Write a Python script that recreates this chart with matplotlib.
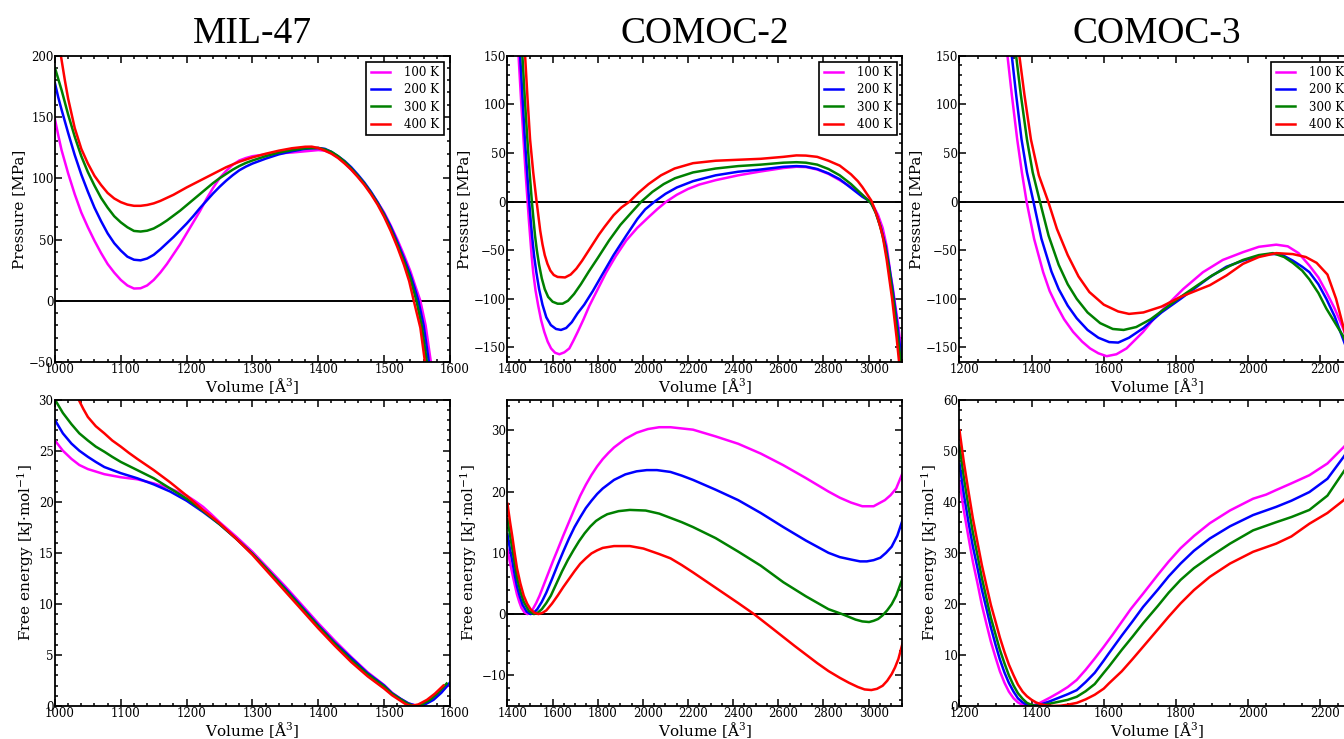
import matplotlib
matplotlib.use('Agg')
import matplotlib.pyplot as plt
import matplotlib.transforms as mtransforms
from matplotlib.ticker import AutoMinorLocator, MultipleLocator

plt.rcParams['font.family'] = ['DejaVu Serif']
plt.rcParams['mathtext.fontset'] = 'dejavuserif'

temps = ['100 K', '200 K', '300 K', '400 K']
colors = ['#ff00ff', '#0000ff', '#008000', '#ff0000']
titles = ['MIL-47', 'COMOC-2', 'COMOC-3']

# ---- MIL-47 pressure [MPa]
mil_p100_v = [1000, 1005, 1010, 1020, 1030, 1040, 1050, 1060, 1070, 1080, 1090, 1100, 1110, 1120, 1130,
              1140, 1150, 1160, 1170, 1180, 1190, 1200, 1210, 1220, 1230, 1240, 1250, 1260, 1270, 1280,
              1290, 1300, 1320, 1340, 1360, 1380, 1400, 1410, 1420, 1430, 1440, 1450, 1460, 1470, 1480,
              1490, 1500, 1510, 1520, 1530, 1540, 1548, 1555, 1563, 1571, 1578]
mil_p100 = [148, 135, 123, 104, 87, 72, 60, 49, 39, 30, 23, 17, 12.5, 10, 10.2,
            12.5, 17, 23, 30, 38, 46, 55, 64, 73, 83, 92, 100, 106, 111, 114.5,
            116.5, 118, 119.5, 120.3, 121, 122, 123, 122.5, 120.5, 117, 112.5, 107, 101.5, 95.5, 88.5,
            80.5, 72, 61.5, 50, 37.5, 24, 11, 0, -20, -50, -78]
mil_p200_v = [1000, 1005, 1010, 1020, 1030, 1040, 1050, 1060, 1070, 1080, 1090, 1100, 1110, 1120, 1130,
              1140, 1150, 1160, 1170, 1180, 1190, 1200, 1210, 1220, 1230, 1240, 1250, 1260, 1270, 1280,
              1290, 1300, 1320, 1340, 1360, 1380, 1400, 1410, 1420, 1430, 1440, 1450, 1460, 1470, 1480,
              1490, 1500, 1510, 1520, 1530, 1540, 1546, 1552, 1560, 1568, 1575]
mil_p200 = [177.5, 166, 156, 137, 119, 103, 89, 76, 65, 55, 47, 41, 36, 33.5, 33,
            34.5, 37.5, 42, 47, 52, 57.5, 63, 69, 75.5, 81.5, 87.5, 93, 98, 102.5, 106.5,
            109.5, 112, 116, 119.5, 122, 124, 124.7, 124, 121.5, 118, 114, 109, 103, 96.5, 89,
            80.5, 71, 60.5, 48, 35, 21, 11, 0, -20, -50, -78]
mil_p300_v = [1000, 1005, 1010, 1020, 1030, 1040, 1050, 1060, 1070, 1080, 1090, 1100, 1110, 1120, 1130,
              1140, 1150, 1160, 1170, 1180, 1190, 1200, 1210, 1220, 1230, 1240, 1250, 1260, 1270, 1280,
              1290, 1300, 1320, 1340, 1360, 1380, 1400, 1410, 1420, 1430, 1440, 1450, 1460, 1470, 1480,
              1490, 1500, 1510, 1520, 1530, 1540, 1549, 1557, 1565, 1572]
mil_p300 = [190, 181, 172, 152, 134, 118, 105, 94, 84, 76, 69, 64, 60, 57, 56.5,
            57.2, 59, 62, 65.5, 69.5, 73.5, 78, 82.5, 87, 91.5, 96, 100, 103.5, 107, 110,
            112.5, 114.5, 118, 121, 123, 124.5, 124.7, 123.5, 121.5, 118, 113.5, 108, 102, 95.5, 88,
            79.5, 70, 58.5, 46, 32.5, 18, 0, -20, -50, -78]
mil_p400_v = [1009, 1015, 1020, 1030, 1040, 1050, 1060, 1070, 1080, 1090, 1100, 1110, 1120, 1130, 1140,
              1150, 1160, 1170, 1180, 1190, 1200, 1220, 1240, 1260, 1280, 1300, 1320, 1340, 1360, 1380,
              1390, 1400, 1410, 1420, 1430, 1440, 1450, 1460, 1470, 1480, 1490, 1500, 1510, 1520, 1530,
              1538, 1545, 1555, 1562, 1570]
mil_p400 = [200, 180, 165, 141, 124, 112, 102, 94.5, 88, 83.5, 80.5, 78.5, 77.5, 77.5, 78.2,
            79.5, 81.5, 84, 86.5, 89.5, 92.5, 98, 103.5, 109, 113.5, 117, 120, 122.5, 124.5, 125.7,
            125.8, 124.7, 122.5, 120, 116.5, 112, 107, 101, 94.5, 87, 78.5, 68.5, 57, 44, 29.5,
            16, 0, -22, -50, -80]

# ---- MIL-47 free energy [kJ/mol]
mil_f100_v = [1000, 1012, 1025, 1037, 1050, 1075, 1100, 1125, 1150, 1175, 1200, 1212, 1225, 1237, 1250,
              1275, 1300, 1325, 1350, 1375, 1400, 1425, 1450, 1475, 1500, 1512, 1525, 1537, 1550, 1562,
              1575, 1587, 1600]
mil_f100 = [26, 25, 24.2, 23.6, 23.2, 22.7, 22.4, 22.2, 21.8, 21.3, 20.6, 20.1, 19.5, 18.8, 18,
            16.6, 15.1, 13.4, 11.7, 9.9, 8.1, 6.4, 4.8, 3.3, 2.05, 1.3, 0.7, 0.25, 0, 0.25,
            0.75, 1.4, 2.2]
mil_f200_v = [1000, 1012, 1025, 1037, 1050, 1062, 1075, 1100, 1125, 1150, 1175, 1200, 1225, 1250, 1275,
              1300, 1325, 1350, 1375, 1400, 1425, 1450, 1475, 1500, 1512, 1525, 1537, 1550, 1562, 1575,
              1587, 1600]
mil_f200 = [28, 26.7, 25.7, 25, 24.4, 23.9, 23.4, 22.8, 22.3, 21.7, 21, 20.1, 19, 17.8, 16.4,
            14.9, 13.2, 11.5, 9.7, 7.9, 6.2, 4.7, 3.2, 2, 1.25, 0.7, 0.25, 0, 0.15, 0.6,
            1.3, 2.3]
mil_f300_v = [1000, 1012, 1025, 1037, 1050, 1062, 1075, 1087, 1100, 1125, 1150, 1175, 1200, 1225, 1250,
              1275, 1300, 1325, 1350, 1375, 1400, 1425, 1450, 1475, 1500, 1512, 1525, 1535, 1545, 1557,
              1570, 1582, 1595]
mil_f300 = [30, 28.7, 27.6, 26.7, 26, 25.4, 24.9, 24.4, 23.9, 23.1, 22.3, 21.3, 20.3, 19.1, 17.8,
            16.4, 14.9, 13.2, 11.4, 9.6, 7.8, 6.1, 4.5, 3.1, 1.9, 1.2, 0.65, 0.25, 0, 0.15,
            0.6, 1.3, 2.2]
mil_f400_v = [1036, 1043, 1050, 1062, 1075, 1087, 1100, 1112, 1125, 1150, 1175, 1200, 1225, 1250, 1275,
              1300, 1325, 1350, 1375, 1400, 1425, 1450, 1475, 1500, 1512, 1525, 1532, 1540, 1552, 1565,
              1577, 1590]
mil_f400 = [30, 29.1, 28.3, 27.4, 26.7, 26, 25.4, 24.8, 24.2, 23.1, 21.9, 20.6, 19.2, 17.9, 16.4,
            14.8, 13, 11.2, 9.4, 7.6, 5.9, 4.3, 2.9, 1.7, 1.05, 0.5, 0.2, 0, 0.15, 0.6,
            1.2, 2.0]

# ---- COMOC-2 pressure [MPa]
c2_p100_v = [1449, 1460, 1471, 1480, 1489, 1495, 1501, 1507, 1514, 1524, 1536, 1549, 1563, 1578, 1593,
             1611, 1630, 1652, 1674, 1692, 1711, 1737, 1763, 1800, 1837, 1880, 1926, 1975, 2025, 2065,
             2104, 2150, 2200, 2250, 2322, 2422, 2522, 2622, 2680, 2722, 2772, 2822, 2872, 2922, 2972,
             3000, 3022, 3042, 3062, 3080, 3096, 3108, 3118, 3130, 3138, 3150]
c2_p100 = [150, 105, 64, 30, 0, -20, -38, -56, -73, -91, -107, -122, -134, -144, -151,
           -155.5, -157, -155, -151, -143, -134, -121, -107, -90, -73, -56, -40, -27, -16, -7.5,
           0, 7, 13, 17.5, 22, 27, 31, 34.5, 35.8, 35.5, 33, 28.5, 22, 15, 7,
           1.5, -5, -14, -27, -46, -73, -90, -107, -125, -141, -165]
c2_p200_v = [1456, 1467, 1477, 1487, 1496, 1503, 1510, 1518, 1528, 1540, 1555, 1572, 1592, 1615, 1637,
             1660, 1685, 1710, 1740, 1778, 1820, 1870, 1926, 1975, 2010, 2052, 2100, 2150, 2222, 2322,
             2422, 2522, 2622, 2680, 2722, 2772, 2822, 2872, 2922, 2972, 3007, 3030, 3052, 3075, 3092,
             3105, 3115, 3126, 3135, 3150]
c2_p200 = [150, 105, 64, 30, 0, -20, -38, -56, -73, -90, -106, -119, -127, -131, -132,
           -130, -124, -115, -106, -92, -75, -55, -35, -18, -8, 0, 8, 14.5, 21, 27,
           30.7, 33, 35.8, 36.5, 36, 33.5, 29, 23, 14, 5, 0, -10, -25, -45, -68,
           -88, -105, -125, -142, -170]
c2_p300_v = [1466, 1477, 1488, 1498, 1508, 1515, 1522, 1530, 1540, 1552, 1565, 1580, 1600, 1622, 1644,
             1668, 1695, 1725, 1760, 1800, 1850, 1900, 1950, 1993, 2042, 2092, 2142, 2222, 2322, 2422,
             2522, 2622, 2680, 2722, 2772, 2822, 2872, 2922, 2972, 3012, 3032, 3052, 3072, 3090, 3112,
             3132, 3148]
c2_p300 = [150, 105, 64, 30, 0, -18, -35, -50, -65, -79, -90, -98, -103, -105, -105,
           -102, -95, -85, -72, -58, -40, -24, -11, 0, 10, 18, 24, 30, 34, 36.5,
           38, 40, 40.5, 40, 38, 33.5, 27, 18, 7, -2, -12, -26, -45, -68, -105,
           -145, -175]
c2_p400_v = [1478, 1489, 1500, 1514, 1529, 1537, 1545, 1555, 1565, 1577, 1590, 1605, 1622, 1655, 1680,
             1705, 1730, 1755, 1780, 1805, 1830, 1870, 1905, 1941, 1980, 2025, 2080, 2140, 2222, 2322,
             2422, 2522, 2622, 2680, 2722, 2772, 2822, 2872, 2922, 2952, 2972, 2992, 3012, 3027, 3042,
             3062, 3080, 3104, 3124, 3137]
c2_p400 = [150, 105, 64, 30, 0, -15, -30, -44, -55, -64, -71, -75.5, -77.5, -78, -75,
           -69, -61, -52, -43, -34, -26, -14, -6, 0, 9, 18, 27, 34, 39.5, 42,
           43, 44, 46, 47.5, 47.3, 46, 42, 37, 28, 21, 15, 8, 1, -8, -18,
           -35, -60, -100, -140, -170]

# ---- COMOC-2 free energy [kJ/mol]
c2_f100_v = [1400, 1411, 1422, 1432, 1442, 1452, 1462, 1475, 1488, 1500, 1512, 1527, 1542, 1562, 1582,
             1602, 1622, 1647, 1672, 1697, 1722, 1747, 1772, 1797, 1822, 1847, 1872, 1922, 1972, 2022,
             2072, 2122, 2172, 2222, 2322, 2422, 2522, 2622, 2722, 2822, 2872, 2922, 2972, 3022, 3072,
             3097, 3122, 3150]
c2_f100 = [10.5, 8.4, 6.5, 4.8, 3.2, 2, 1, 0.3, 0, 0.25, 0.8, 1.8, 3, 4.9, 6.8,
           8.7, 10.5, 12.8, 15, 17.2, 19.3, 21.1, 22.7, 24.1, 25.3, 26.3, 27.2, 28.6, 29.6, 30.2,
           30.5, 30.5, 30.3, 30.1, 29, 27.8, 26.2, 24.3, 22.2, 20, 19, 18.2, 17.6, 17.6, 18.6,
           19.4, 20.5, 23]
c2_f200_v = [1400, 1411, 1422, 1432, 1442, 1455, 1467, 1485, 1502, 1517, 1532, 1552, 1572, 1597, 1622,
             1647, 1672, 1697, 1722, 1747, 1772, 1797, 1822, 1872, 1922, 1972, 2017, 2062, 2122, 2172,
             2222, 2322, 2422, 2522, 2622, 2722, 2822, 2872, 2922, 2962, 2992, 3022, 3052, 3077, 3102,
             3127, 3150]
c2_f200 = [13, 10.6, 8.5, 6.4, 4.5, 2.8, 1.5, 0.4, 0, 0.25, 0.8, 2, 3.5, 5.7, 8,
           10.2, 12.3, 14.2, 15.8, 17.3, 18.5, 19.6, 20.5, 21.9, 22.8, 23.3, 23.5, 23.5, 23.2, 22.6,
           21.9, 20.3, 18.6, 16.5, 14.2, 12, 10, 9.3, 8.9, 8.6, 8.6, 8.8, 9.2, 10, 11,
           12.8, 15.3]
c2_f300_v = [1400, 1411, 1422, 1432, 1442, 1457, 1472, 1495, 1517, 1535, 1552, 1572, 1592, 1617, 1642,
             1667, 1692, 1717, 1742, 1767, 1792, 1817, 1842, 1892, 1942, 2012, 2072, 2122, 2172, 2222,
             2322, 2422, 2522, 2622, 2722, 2822, 2882, 2942, 2972, 3002, 3022, 3042, 3062, 3082, 3102,
             3122, 3150]
c2_f300 = [15.5, 12.9, 10.5, 8.2, 6, 3.7, 2, 0.5, 0, 0.25, 0.8, 1.8, 3, 5, 7,
           8.8, 10.4, 11.9, 13.2, 14.3, 15.2, 15.8, 16.3, 16.8, 17, 16.9, 16.4, 15.7, 15, 14.2,
           12.4, 10.2, 7.9, 5.2, 2.9, 0.8, 0, -0.9, -1.2, -1.3, -1.1, -0.8, -0.2, 0.6, 1.6,
           3, 5.8]
c2_f400_v = [1400, 1411, 1422, 1432, 1442, 1457, 1472, 1487, 1502, 1520, 1537, 1555, 1572, 1597, 1622,
             1647, 1672, 1697, 1722, 1747, 1772, 1797, 1822, 1872, 1942, 2002, 2072, 2122, 2172, 2222,
             2322, 2422, 2492, 2572, 2672, 2772, 2822, 2872, 2912, 2952, 2982, 3012, 3037, 3062, 3082,
             3102, 3117, 3132, 3150]
c2_f400 = [18, 15.1, 12.5, 9.9, 7.5, 5, 3, 1.7, 0.8, 0.2, 0, 0.2, 0.6, 1.7, 3,
           4.4, 5.7, 7, 8.2, 9.1, 9.9, 10.4, 10.8, 11.1, 11.1, 10.7, 9.8, 9.1, 8, 6.8,
           4.3, 1.8, 0, -2.3, -5.2, -8, -9.3, -10.4, -11.2, -11.9, -12.3, -12.4, -12.2, -11.7, -10.9,
           -9.8, -8.7, -7.3, -4.8]

# ---- COMOC-3 pressure [MPa]
c3_p100_v = [1333, 1345, 1360, 1373, 1386, 1407, 1432, 1450, 1469, 1490, 1515, 1540, 1562, 1585, 1608,
             1635, 1663, 1709, 1740, 1774, 1820, 1875, 1930, 1986, 2030, 2078, 2110, 2140, 2170, 2195,
             2217, 2240, 2263, 2280, 2295]
c3_p100 = [150, 110, 64, 30, 0, -38.5, -72.6, -92, -106.7, -121, -134, -144, -151, -156, -159,
           -157, -151, -134, -120, -107, -90, -72.6, -60, -52, -46.5, -44.3, -46, -53, -65.8, -78,
           -93, -110, -130, -148, -165]
c3_p200_v = [1345, 1357, 1372, 1387, 1405, 1427, 1455, 1475, 1500, 1525, 1555, 1585, 1615, 1640, 1670,
             1710, 1760, 1813, 1860, 1894, 1940, 1986, 2030, 2060, 2090, 2124, 2150, 2170, 2195, 2217,
             2240, 2263, 2280, 2295]
c3_p200 = [150, 110, 64, 30, 0, -38, -72, -90, -107, -120, -132, -140, -144.5, -145, -140,
           -130, -114, -100, -87, -77.7, -67, -60.7, -56, -54, -54, -60.7, -67, -72.6, -85, -100,
           -118, -141, -158, -175]
c3_p300_v = [1357, 1370, 1387, 1403, 1423, 1447, 1475, 1500, 1525, 1555, 1590, 1625, 1655, 1690, 1730,
             1770, 1813, 1860, 1900, 1950, 1986, 2030, 2069, 2100, 2124, 2150, 2170, 2195, 2217, 2240,
             2263, 2280, 2295]
c3_p300 = [150, 110, 64, 30, 0, -35, -65, -85, -100, -114, -125, -131, -132, -129, -121,
           -110, -98, -86, -76, -66, -60, -55, -53, -57, -63, -71, -80, -94, -110, -124,
           -138, -152, -170]
c3_p400_v = [1366, 1380, 1398, 1420, 1446, 1470, 1500, 1530, 1560, 1600, 1640, 1670, 1710, 1760, 1813,
             1860, 1894, 1940, 1986, 2030, 2078, 2124, 2160, 2190, 2220, 2244, 2265, 2280, 2295]
c3_p400 = [150, 110, 64, 27, 0, -28, -55, -77, -93, -106, -113, -115.5, -114, -108, -98,
           -91, -86, -76, -64, -57, -53, -54, -57, -63, -75, -100, -130, -150, -170]

# ---- COMOC-3 free energy [kJ/mol]
c3_f100_v = [1200, 1212, 1225, 1237, 1250, 1262, 1275, 1287, 1300, 1312, 1325, 1337, 1350, 1362, 1375,
             1395, 1420, 1450, 1475, 1500, 1525, 1550, 1575, 1600, 1625, 1650, 1675, 1709, 1750, 1780,
             1813, 1850, 1894, 1950, 2014, 2050, 2078, 2120, 2170, 2220, 2265, 2295]
c3_f100 = [44, 38.3, 33, 28.3, 24, 19.8, 16, 12.6, 9.5, 6.8, 4.5, 2.8, 1.5, 0.7, 0.2,
           0, 0.5, 1.6, 2.6, 3.7, 5.1, 7.1, 9.3, 11.6, 14, 16.5, 19, 22, 25.7, 28.3,
           30.9, 33.3, 35.8, 38.3, 40.6, 41.4, 42.3, 43.6, 45.2, 47.5, 50.7, 53]
c3_f200_v = [1200, 1212, 1225, 1237, 1250, 1262, 1275, 1287, 1300, 1312, 1325, 1337, 1350, 1362, 1375,
             1388, 1400, 1425, 1450, 1475, 1500, 1525, 1550, 1575, 1600, 1614, 1650, 1680, 1709, 1750,
             1780, 1813, 1850, 1894, 1950, 2014, 2078, 2120, 2170, 2220, 2265, 2295]
c3_f200 = [47.5, 41.5, 36, 31.3, 27, 22.8, 19, 15.4, 12, 9.1, 6.5, 4.5, 2.8, 1.5, 0.7,
           0.2, 0, 0.3, 0.9, 1.6, 2.3, 3.1, 4.7, 6.5, 8.9, 10.3, 13.8, 16.6, 19.4, 22.8,
           25.4, 27.9, 30.4, 32.8, 35.2, 37.4, 39, 40.2, 41.9, 44.5, 48.8, 52]
c3_f300_v = [1200, 1212, 1225, 1237, 1250, 1262, 1275, 1287, 1300, 1312, 1325, 1337, 1350, 1362, 1375,
             1387, 1400, 1418, 1440, 1460, 1480, 1500, 1525, 1550, 1575, 1600, 1614, 1650, 1680, 1709,
             1750, 1780, 1813, 1850, 1894, 1950, 2014, 2078, 2120, 2170, 2220, 2265, 2295]
c3_f300 = [51, 44.8, 39, 34, 29.5, 25.1, 21, 17.3, 14, 11, 8.3, 6, 4, 2.5, 1.4,
           0.6, 0.2, 0, 0.3, 0.6, 0.9, 1.2, 1.8, 2.9, 4.3, 6.5, 7.7, 11, 13.6, 16.2,
           19.6, 22.2, 24.7, 27, 29.2, 31.8, 34.4, 36, 37, 38.4, 41.2, 45.9, 49]
c3_f400_v = [1200, 1212, 1225, 1237, 1250, 1262, 1275, 1287, 1300, 1312, 1325, 1337, 1350, 1362, 1375,
             1387, 1400, 1412, 1425, 1440, 1460, 1480, 1500, 1525, 1550, 1575, 1600, 1614, 1650, 1680,
             1709, 1750, 1780, 1813, 1850, 1894, 1950, 2014, 2078, 2120, 2170, 2220, 2265, 2295]
c3_f400 = [54, 47.8, 42, 36.8, 32, 27.6, 23.5, 19.8, 16.5, 13.4, 10.5, 8.1, 6, 4.2, 2.8,
           1.9, 1.2, 0.7, 0.35, 0.1, 0, 0.05, 0.25, 0.6, 1.3, 2.2, 3.4, 4.4, 6.8, 9.2,
           11.6, 15, 17.5, 20.1, 22.7, 25.3, 27.9, 30.2, 31.8, 33.2, 35.7, 37.8, 40.3, 43]

panels = [
    # (row, col, curves, xlim, ylim, xstep, ystep, zero line)
    (0, 0, [(mil_p100_v, mil_p100), (mil_p200_v, mil_p200), (mil_p300_v, mil_p300), (mil_p400_v, mil_p400)],
     (1000, 1600), (-50, 200), 100, 50, True),
    (1, 0, [(mil_f100_v, mil_f100), (mil_f200_v, mil_f200), (mil_f300_v, mil_f300), (mil_f400_v, mil_f400)],
     (1000, 1600), (0, 30), 100, 5, False),
    (0, 1, [(c2_p100_v, c2_p100), (c2_p200_v, c2_p200), (c2_p300_v, c2_p300), (c2_p400_v, c2_p400)],
     (1400, 3150), (-165, 150), 200, 50, True),
    (1, 1, [(c2_f100_v, c2_f100), (c2_f200_v, c2_f200), (c2_f300_v, c2_f300), (c2_f400_v, c2_f400)],
     (1400, 3150), (-15, 35), 200, 10, True),
    (0, 2, [(c3_p100_v, c3_p100), (c3_p200_v, c3_p200), (c3_p300_v, c3_p300), (c3_p400_v, c3_p400)],
     (1200, 2295), (-165, 150), 200, 50, True),
    (1, 2, [(c3_f100_v, c3_f100), (c3_f200_v, c3_f200), (c3_f300_v, c3_f300), (c3_f400_v, c3_f400)],
     (1200, 2295), (0, 60), 200, 10, False),
]

fig = plt.figure(figsize=(13.44, 7.39), dpi=100)
col_left = [0.0409, 0.3776, 0.7139]
row_bottom = [0.5101, 0.0447]
w, h = 0.2939, 0.4145
shift = mtransforms.ScaledTranslation(0.05, 0, fig.dpi_scale_trans)

for row, col, curves, xlim, ylim, xstep, ystep, zero in panels:
    ax = fig.add_axes([col_left[col], row_bottom[row], w, h])
    for (v, y), c, t in zip(curves, colors, temps):
        ax.plot(v, y, color=c, lw=1.8, label=t, solid_joinstyle='round')
    if zero:
        ax.axhline(0, color='black', lw=1.4, zorder=1)
    ax.set_xlim(xlim)
    ax.set_ylim(ylim)
    ax.xaxis.set_major_locator(MultipleLocator(xstep))
    ax.yaxis.set_major_locator(MultipleLocator(ystep))
    ax.xaxis.set_minor_locator(AutoMinorLocator())
    ax.yaxis.set_minor_locator(AutoMinorLocator())
    ax.tick_params(which='both', direction='in', top=True, right=True, width=1.1, labelsize=8.5)
    ax.tick_params(which='major', length=5)
    ax.tick_params(which='minor', length=2.5)
    ax.tick_params(axis='x', pad=1)
    ax.tick_params(axis='y', pad=1)
    for s in ax.spines.values():
        s.set_linewidth(1.3)
    ax.set_xlabel('Volume [Å$^3$]', fontsize=11, labelpad=0)
    if row == 0:
        ax.set_ylabel('Pressure [MPa]', fontsize=11, labelpad=2)
        ax.set_title(titles[col], fontsize=27, family='Liberation Serif', pad=9)
        ax.legend(loc='upper right', fontsize=8.5, fancybox=False, edgecolor='black', framealpha=1,
                  handlelength=1.6, handletextpad=1.2, labelspacing=0.35, borderaxespad=0.5)
        ax.get_legend().get_frame().set_linewidth(1.2)
    else:
        ax.set_ylabel('Free energy [kJ·mol$^{-1}$]', fontsize=11, labelpad=2)
    for lbl in ax.get_xticklabels():
        lbl.set_transform(lbl.get_transform() + shift)

fig.savefig('out.png', dpi=100)
